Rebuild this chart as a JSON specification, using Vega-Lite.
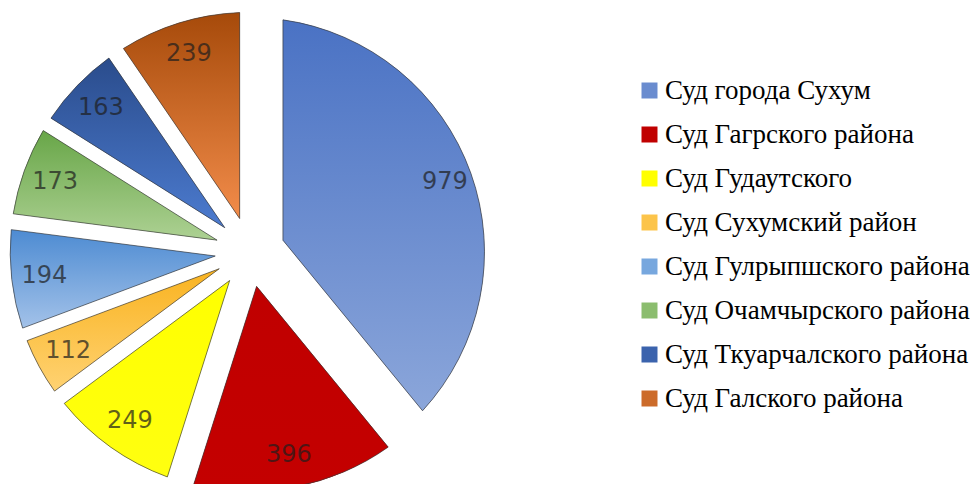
{
  "$schema": "https://vega.github.io/schema/vega-lite/v6.json",
  "width": 500,
  "height": 474,
  "padding": {"left": 0, "top": 10, "right": 0, "bottom": 0},
  "autosize": {"type": "pad"},
  "background": "white",
  "config": {"view": {"stroke": null}},
  "data": {
    "values": [
      {"idx": 1, "court": "Суд города Сухум", "value": 979},
      {"idx": 2, "court": "Суд Гагрского района", "value": 396},
      {"idx": 3, "court": "Суд Гудаутского", "value": 249},
      {"idx": 4, "court": "Суд Сухумский район", "value": 112},
      {"idx": 5, "court": "Суд Гулрыпшского района", "value": 194},
      {"idx": 6, "court": "Суд Очамчырского района", "value": 173},
      {"idx": 7, "court": "Суд Ткуарчалского района", "value": 163},
      {"idx": 8, "court": "Суд Галского района", "value": 239}
    ]
  },
  "encoding": {
    "theta": {"field": "value", "type": "quantitative", "stack": true},
    "order": {"field": "idx", "type": "quantitative"}
  },
  "layer": [
    {
      "mark": {
        "type": "arc",
        "innerRadius": 35,
        "outerRadius": {"expr": "sqrt(43250 + 14350*cos((scale('theta', datum.value_end) - scale('theta', datum.value_start))/4))"},
        "padAngle": {"expr": "2*asin(35*sin((scale('theta', datum.value_end) - scale('theta', datum.value_start))/2) / sqrt(1225 + 43250 + 14350*cos((scale('theta', datum.value_end) - scale('theta', datum.value_start))/4)))"}
      },
      "encoding": {
        "color": {
          "field": "court",
          "type": "nominal",
          "scale": {
            "domain": ["Суд города Сухум", "Суд Гагрского района", "Суд Гудаутского", "Суд Сухумский район", "Суд Гулрыпшского района", "Суд Очамчырского района", "Суд Ткуарчалского района", "Суд Галского района"],
            "range": ["#6a8ccf", "#c00000", "#ffff00", "#fcc44a", "#77a7de", "#8bbd6e", "#3b63ad", "#cc6b2a"]
          },
          "legend": {
            "orient": "none",
            "legendX": 636,
            "legendY": 62,
            "title": null,
            "padding": 0,
            "labelFont": "Liberation Serif",
            "labelFontSize": 27,
            "labelColor": "#000000",
            "labelOffset": 2,
            "labelLimit": 400,
            "symbolType": "square",
            "symbolSize": 256,
            "symbolStrokeWidth": 0,
            "rowPadding": 16
          }
        }
      }
    },
    {
      "mark": {
        "type": "arc",
        "innerRadius": 35,
        "outerRadius": {"expr": "sqrt(43250 + 14350*cos((scale('theta', datum.value_end) - scale('theta', datum.value_start))/4))"},
        "padAngle": {"expr": "2*asin(35*sin((scale('theta', datum.value_end) - scale('theta', datum.value_start))/2) / sqrt(1225 + 43250 + 14350*cos((scale('theta', datum.value_end) - scale('theta', datum.value_start))/4)))"},
        "fill": {"expr": "[{gradient: 'linear', x1: 0, y1: 0, x2: 0, y2: 1, stops: [{offset: 0, color: '#4a72c4'}, {offset: 1, color: '#8ba6da'}]}, {gradient: 'linear', x1: 0, y1: 0, x2: 0, y2: 1, stops: [{offset: 0, color: '#c00000'}, {offset: 1, color: '#c40000'}]}, {gradient: 'linear', x1: 0, y1: 0, x2: 0, y2: 1, stops: [{offset: 0, color: '#ffff00'}, {offset: 1, color: '#ffff10'}]}, {gradient: 'linear', x1: 0, y1: 0, x2: 0, y2: 1, stops: [{offset: 0, color: '#f9b320'}, {offset: 1, color: '#ffd272'}]}, {gradient: 'linear', x1: 0, y1: 0, x2: 0, y2: 1, stops: [{offset: 0, color: '#4d8bd2'}, {offset: 1, color: '#a3c2e9'}]}, {gradient: 'linear', x1: 0, y1: 0, x2: 0, y2: 1, stops: [{offset: 0, color: '#68a648'}, {offset: 1, color: '#add193'}]}, {gradient: 'linear', x1: 0, y1: 0, x2: 0, y2: 1, stops: [{offset: 0, color: '#2a4c8c'}, {offset: 1, color: '#4c7bcf'}]}, {gradient: 'linear', x1: 0, y1: 0, x2: 0, y2: 1, stops: [{offset: 0, color: '#a64a0a'}, {offset: 1, color: '#f28c4a'}]}][datum.idx - 1]"},
        "stroke": "#3a3a3a",
        "strokeWidth": 0.8,
        "strokeOpacity": 0.85
      }
    },
    {
      "mark": {
        "type": "text",
        "radius": 207,
        "font": "DejaVu Sans",
        "fontSize": 24,
        "fill": "#1e1e1e",
        "opacity": 0.7
      },
      "encoding": {
        "text": {"field": "value", "type": "quantitative"}
      }
    }
  ]
}
